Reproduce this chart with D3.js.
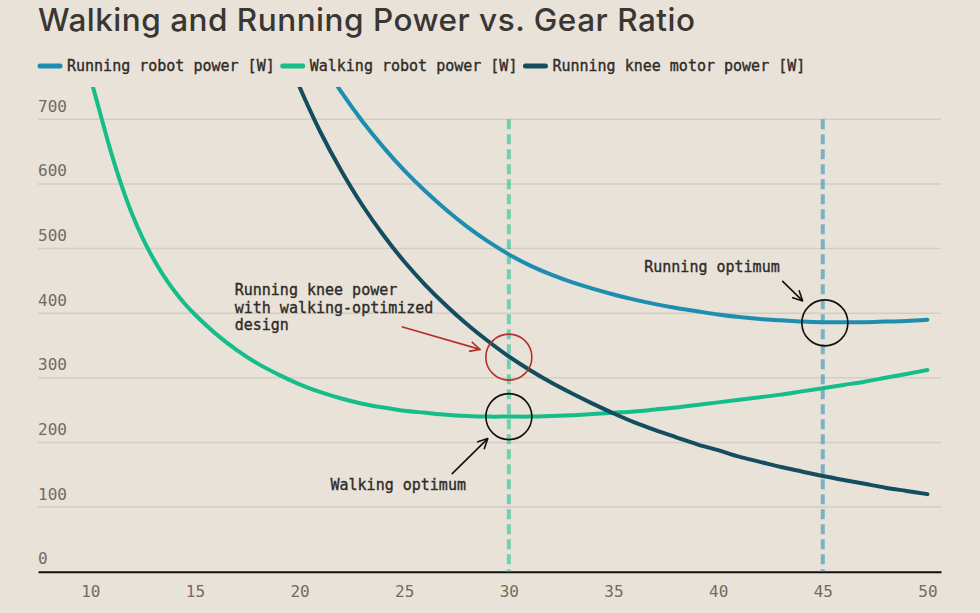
<!DOCTYPE html>
<html>
<head>
<meta charset="utf-8">
<script src="https://cdn.jsdelivr.net/npm/d3@7/dist/d3.min.js"></script>
<style>
    body { margin: 0; background: #e8e2d9; }
    svg { display: block; }
    .title { font-family: Inter, "Open Sans", sans-serif; font-size: 31.5px; font-weight: 500; letter-spacing: 0.5px; fill: #3a3632; }
    .legend text, .note { font-family: "DejaVu Sans Mono", monospace; font-size: 15px; fill: #2f2b28; stroke: #2f2b28; stroke-width: 0.35px; }
    .tick-label { font-family: "DejaVu Sans Mono", monospace; font-size: 16px; fill: #716b64; }
</style>
</head>
<body>
<div id="chart"></div>
<script>

// Data (gear ratio -> power in W)
var walkingGear  = [10, 10.5, 11, 11.5, 12, 12.5, 13, 13.5, 14, 14.5, 15, 16, 17, 18, 19, 20, 21, 22, 23, 24, 25, 26, 27, 28, 29, 30,
                    31, 32, 33, 34, 35, 36, 37, 38, 39, 40, 41, 42, 43, 44, 45, 46, 47, 48, 49, 50];
var walkingPower = [765, 706, 648, 597, 553, 516, 485, 458, 435, 415, 398, 368, 343, 322, 305, 290, 278, 268, 260, 254, 249, 246, 243, 241, 240, 240,
                    240, 241, 242, 244, 246, 248, 251, 254, 258, 262, 266, 270, 274, 279, 284, 289, 294, 300, 306, 312];

var runningGear  = [21.5, 22, 23, 24, 25, 26, 27, 28, 29, 30, 31, 32, 33, 34, 35, 36, 37, 38, 39, 40, 41, 42, 43, 44, 45, 46, 47, 48, 49, 50];
var runningPower = [767, 742, 697, 657, 621, 589, 560, 534, 511, 491, 474, 460, 448, 438, 429, 421, 414, 408, 403, 398, 394, 391, 389, 387, 386, 386, 386, 387, 388, 390];

var kneeGear  = [19.5, 20, 21, 22, 23, 24, 25, 26, 27, 28, 29, 30, 31, 32, 33, 34, 35, 36, 37, 38, 39, 40, 41, 42, 43, 44, 45, 46, 47, 48, 49, 50];
var kneePower = [790, 750, 680, 620, 567, 521, 480, 444, 412, 383, 357, 333, 312, 293, 276, 260, 245, 231, 219, 208, 197, 188, 178, 170, 162, 155, 148, 142, 136, 130, 125, 120];

var xTicks = [10, 15, 20, 25, 30, 35, 40, 45, 50];
var yTicks = [0, 100, 200, 300, 400, 500, 600, 700];

var seriesNames  = ["Running robot power [W]", "Walking robot power [W]", "Running knee motor power [W]"];
var seriesColors = ["#1d8db0", "#15be88", "#134d5f"];

var optimumGear = [30, 45];

var width = 980, height = 613;
var margin = { top: 87, right: 39, bottom: 41, left: 38 };

var svg = d3.select("#chart").append("svg")
    .attr("width", width)
    .attr("height", height);

svg.append("rect")
    .attr("width", width)
    .attr("height", height)
    .attr("fill", "#e8e2d9");

// Scales
var x = d3.scaleLinear()
    .domain([7.5, 50.65])
    .range([margin.left, width - margin.right]);

var y = d3.scaleLinear()
    .domain([0, 750])
    .range([height - margin.bottom - 0.3, margin.top]);

// Title
svg.append("text")
    .attr("class", "title")
    .attr("x", 38)
    .attr("y", 31)
    .text("Walking and Running Power vs. Gear Ratio");

// Legend
var legend = svg.append("g").attr("class", "legend");
var lx = 38;
seriesNames.forEach(function(name, i) {
    legend.append("line")
        .attr("x1", lx + 2).attr("x2", lx + 22)
        .attr("y1", 66).attr("y2", 66)
        .attr("stroke", seriesColors[i])
        .attr("stroke-width", 5)
        .attr("stroke-linecap", "round");
    var t = legend.append("text")
        .attr("x", lx + 29)
        .attr("y", 71)
        .text(name);
    lx = lx + 29 + t.node().getComputedTextLength() + 6;
});

// Gridlines + y labels
yTicks.forEach(function(v) {
    if (v > 0) {
        svg.append("line")
            .attr("x1", x.range()[0]).attr("x2", x.range()[1])
            .attr("y1", y(v)).attr("y2", y(v))
            .attr("stroke", "#d3cdc5")
            .attr("stroke-width", 1.5);
    }
    svg.append("text")
        .attr("class", "tick-label")
        .attr("x", 38)
        .attr("y", y(v) - 7.5)
        .text(v);
});

// x axis
var xAxis = d3.axisBottom(x)
    .tickValues(xTicks)
    .tickSize(0)
    .tickPadding(14);

var gx = svg.append("g")
    .attr("transform", "translate(0," + y(0) + ")")
    .call(xAxis);
gx.select(".domain").attr("stroke", "#111").attr("stroke-width", 2);
gx.selectAll("text")
    .attr("class", "tick-label")
    .attr("font-family", null)
    .attr("font-size", null)
    .attr("fill", null);

// Optimum dashed lines
svg.selectAll(".opt-line")
    .data(optimumGear)
    .enter().append("line")
    .attr("class", "opt-line")
    .attr("x1", function(d) { return x(d); })
    .attr("x2", function(d) { return x(d); })
    .attr("y1", y(700))
    .attr("y2", y(0))
    .attr("stroke", function(d, i) { return i === 0 ? seriesColors[1] : seriesColors[0]; })
    .attr("stroke-opacity", 0.55)
    .attr("stroke-width", 4)
    .attr("stroke-dasharray", "10,5");

// Curves (clipped at top of plot)
svg.append("clipPath").attr("id", "plot-clip")
    .append("rect")
    .attr("x", x.range()[0]).attr("y", y(750))
    .attr("width", x.range()[1] - x.range()[0])
    .attr("height", y(0) - y(750));

var line = d3.line()
    .curve(d3.curveCatmullRom)
    .x(function(d) { return x(d[0]); })
    .y(function(d) { return y(d[1]); });

var series = [
    d3.zip(runningGear, runningPower),
    d3.zip(walkingGear, walkingPower),
    d3.zip(kneeGear, kneePower)
];

series.forEach(function(pts, i) {
    svg.append("path")
        .datum(pts)
        .attr("clip-path", "url(#plot-clip)")
        .attr("fill", "none")
        .attr("stroke", seriesColors[i])
        .attr("stroke-width", 4)
        .attr("stroke-linecap", "round")
        .attr("d", line);
});

// Arrow markers
function addMarker(id, color) {
    svg.append("defs").append("marker")
        .attr("id", id)
        .attr("viewBox", "0 0 12 12")
        .attr("refX", 11).attr("refY", 6)
        .attr("markerWidth", 12).attr("markerHeight", 12)
        .attr("markerUnits", "userSpaceOnUse")
        .attr("orient", "auto")
        .append("path")
        .attr("d", "M1,1 L11,6 L1,11")
        .attr("fill", "none")
        .attr("stroke", color)
        .attr("stroke-width", 1.6);
}
addMarker("arrow-black", "#111");
addMarker("arrow-red", "#b3302b");

function arrow(x1, y1, x2, y2, color, marker) {
    svg.append("line")
        .attr("x1", x(x1)).attr("y1", y(y1))
        .attr("x2", x(x2)).attr("y2", y(y2))
        .attr("stroke", color)
        .attr("stroke-width", 1.6)
        .attr("marker-end", "url(#" + marker + ")");
}

function ring(gx, gy, color) {
    svg.append("circle")
        .attr("cx", x(gx)).attr("cy", y(gy))
        .attr("r", 23)
        .attr("fill", "none")
        .attr("stroke", color)
        .attr("stroke-width", 1.6);
}

// Annotations
ring(30, 240, "#111");
ring(30, 332, "#b3302b");
ring(45.1, 385, "#111");

arrow(27.27, 151, 28.99, 206, "#111", "arrow-black");
arrow(43.06, 450, 44.04, 419, "#111", "arrow-black");
arrow(24.88, 379, 28.62, 344, "#b3302b", "arrow-red");

svg.append("text")
    .attr("class", "note")
    .attr("x", x(27.95))
    .attr("y", y(126.5))
    .attr("text-anchor", "end")
    .text("Walking optimum");

svg.append("text")
    .attr("class", "note")
    .attr("x", x(36.47))
    .attr("y", y(463.5))
    .text("Running optimum");

var kneeNote = ["Running knee power", "with walking-optimized", "design"];
svg.append("text")
    .attr("class", "note")
    .selectAll("tspan")
    .data(kneeNote)
    .enter().append("tspan")
    .attr("x", x(16.9))
    .attr("y", function(d, i) { return y(428.3) + i * 17.6; })
    .text(function(d) { return d; });

</script>
</body>
</html>
